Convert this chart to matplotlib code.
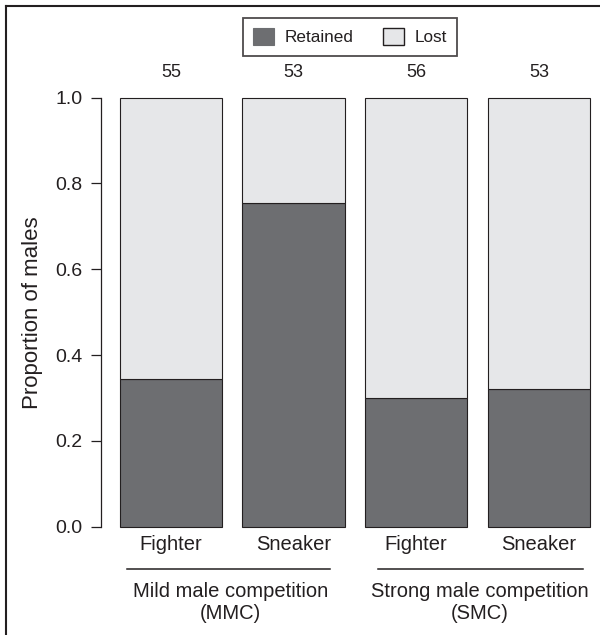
import matplotlib
matplotlib.use("Agg")
import matplotlib.pyplot as plt
from matplotlib.patches import Patch
from matplotlib.lines import Line2D

plt.rcParams['font.family'] = ['Liberation Sans', 'DejaVu Sans']

# ---- data ----
types = ["Fighter", "Sneaker", "Fighter", "Sneaker"]
retained = [0.345, 0.755, 0.30, 0.32]
lost = [0.655, 0.245, 0.70, 0.68]
counts = [55, 53, 56, 53]
groups = [("Mild male competition", "(MMC)"), ("Strong male competition", "(SMC)")]
yticks = [0.0, 0.2, 0.4, 0.6, 0.8, 1.0]

dark = "#6d6e71"
light = "#e6e7e9"
edge = "#231f20"

W, H = 600, 635
fig = plt.figure(figsize=(W / 100, H / 100), dpi=100)

# axes placement in pixels
left_px, right_px = 101, 600
top_px, bot_px = 80.5, 543.9
ax = fig.add_axes([left_px / W, 1 - bot_px / H, (right_px - left_px) / W, (bot_px - top_px) / H])

pos = [0.7 + 1.2 * i for i in range(len(types))]
ax.bar(pos, retained, width=1.0, color=dark, edgecolor=edge, linewidth=0.8)
ax.bar(pos, lost, bottom=retained, width=1.0, color=light, edgecolor=edge, linewidth=0.8)

ax.set_xlim(0.016, 4.898)
ax.set_ylim(-0.04, 1.04)

for s in ["top", "right", "bottom"]:
    ax.spines[s].set_visible(False)
ax.spines["left"].set_bounds(0, 1)
ax.spines["left"].set_linewidth(0.9)
ax.spines["left"].set_color("#231f20")
ax.set_xticks([])
ax.set_yticks(yticks)
ax.set_yticklabels([f"{v:.1f}" for v in yticks], fontsize=14, color="#231f20")
ax.tick_params(axis="y", direction="out", length=7.5, width=0.9, pad=6.0, colors="#231f20")
ax.set_ylabel("Proportion of males", fontsize=16, color="#231f20")
ax.yaxis.set_label_coords(-(left_px - 43) / (right_px - left_px), 0.5)

# counts above bars
for x, n in zip(pos, counts):
    ax.text(x, 1.0576, str(n), ha="center", va="center", fontsize=13, color="#231f20", clip_on=False)

# category labels under bars
for x, t in zip(pos, types):
    ax.text(x, -0.0415, t, ha="center", va="center", fontsize=14.5, color="#231f20", clip_on=False)

# group lines and labels
line_spans = [(0.2685, 2.255), (2.725, 4.732)]
label_centers = [1.286, 3.723]
for (x0, x1), xc, (g1, g2) in zip(line_spans, label_centers, groups):
    ax.plot([x0, x1], [-0.0993, -0.0993], color="#231f20", lw=1.1, clip_on=False)
    ax.text(xc, -0.1515, g1, ha="center", va="center", fontsize=14.5, color="#231f20", clip_on=False)
    ax.text(xc, -0.203, g2, ha="center", va="center", fontsize=14.5, color="#231f20", clip_on=False)

# legend
handles = [Patch(facecolor=dark, edgecolor=dark, linewidth=0.8, label="Retained"),
           Patch(facecolor=light, edgecolor=edge, linewidth=1.0, label="Lost")]
leg = fig.legend(handles=handles, loc="upper center", bbox_to_anchor=(350 / W, 1 - 18 / H),
                 ncol=2, fontsize=12.3, frameon=True, fancybox=False,
                 handlelength=1.2, handleheight=1.1, handletextpad=0.62,
                 columnspacing=1.75, borderpad=0.6, borderaxespad=0)
leg.get_frame().set_edgecolor("#231f20")
leg.get_frame().set_linewidth(1.3)
for t in leg.get_texts():
    t.set_color("#231f20")

# outer frame (left and top edges visible)
fig.add_artist(Line2D([6 / W, 6 / W], [0, 1 - 6 / H], transform=fig.transFigure, color="#231f20", lw=1.5))
fig.add_artist(Line2D([6 / W, 1], [1 - 6 / H, 1 - 6 / H], transform=fig.transFigure, color="#231f20", lw=1.5))

fig.savefig("out.png", dpi=100, facecolor="white")
